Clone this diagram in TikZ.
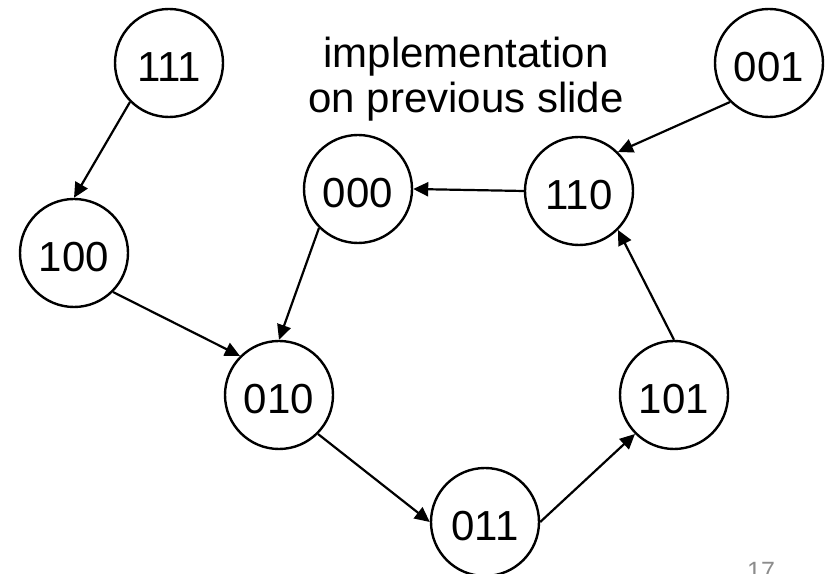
\documentclass[tikz,border=0pt]{standalone}
\usepackage{fontspec}
\setmainfont{Liberation Sans}
\usetikzlibrary{arrows.meta}
\definecolor{pagegray}{RGB}{140,140,140}
\begin{document}
\begin{tikzpicture}[x=1bp,y=1bp,
  state/.style={circle,draw=black,line width=2.4bp,minimum size=108bp,inner sep=0pt,
    font=\fontsize{42bp}{46bp}\selectfont,text height=38bp,text depth=0pt},
  conn/.style={line width=2.2bp,-{Triangle[length=15bp,width=14bp]}},
  caption/.style={font=\fontsize{42bp}{45bp}\selectfont,align=center,inner sep=0pt}]
\useasboundingbox (0,0) rectangle (829,574);
\node[state] (s111) at (169,511) {111};
\node[state] (s100) at (74,321) {100};
\node[state] (s000) at (358,385) {000};
\node[state] (s110) at (579,383) {110};
\node[state] (s001) at (769,511) {001};
\node[state] (s010) at (279,179) {010};
\node[state] (s101) at (674,179) {101};
\node[state] (s011) at (485,52) {011};
\node[caption,anchor=base] (cap) at (466,461) {implementation\\on previous slide};
\node[font=\fontsize{25bp}{28bp}\selectfont,text=pagegray,anchor=base,inner sep=0pt] (page) at (761,-6) {17};
\draw[conn] (s111.south west) -- (s100.north);
\draw[conn] (s000.south west) -- (s010.north);
\draw[conn] (s100.south east) -- (s010.north west);
\draw[conn] (s010.south east) -- (s011.west);
\draw[conn] (s011.east) -- (s101.south west);
\draw[conn] (s101.north) -- (s110.south east);
\draw[conn] (s110.west) -- (s000.east);
\draw[conn] (s001.south west) -- (s110.north east);
\end{tikzpicture}
\end{document}
